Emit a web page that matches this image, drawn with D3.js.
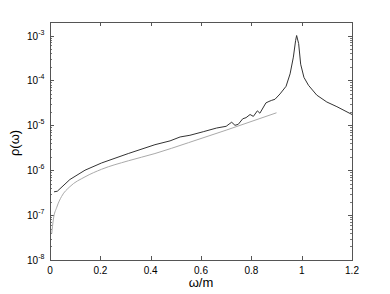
<!DOCTYPE html>
<html>
<head>
<meta charset="utf-8">
<script src="https://cdn.jsdelivr.net/npm/d3@7"></script>
<style>
  body { margin: 0; background: #fff; }
  svg { display: block; font-family: "Liberation Sans", Arial, Helvetica, sans-serif; }
  .tick-label { font-size: 10px; fill: #000; }
  .axis-title { font-size: 13px; fill: #000; }
</style>
</head>
<body>
<div id="chart"></div>
<script>
// spectral density, full result (dark) and approximation (light)
const omegaDark = [0.016, 0.029, 0.079, 0.139, 0.205, 0.311, 0.417, 0.477, 0.517, 0.556, 0.609, 0.662, 0.700,
    0.715, 0.722, 0.735, 0.748, 0.766, 0.779, 0.795, 0.808, 0.824, 0.834, 0.858, 0.870, 0.881, 0.894, 0.914,
    0.938, 0.954, 0.967, 0.976, 0.980, 0.988, 0.996, 1.009, 1.027, 1.06, 1.10, 1.14, 1.20];
const rhoDark = [3.3e-7, 3.4e-7, 6.2e-7, 1.0e-6, 1.45e-6, 2.35e-6, 3.7e-6, 4.5e-6, 5.5e-6, 6.0e-6, 7.2e-6, 8.7e-6, 9.5e-6,
    1.1e-5, 1.17e-5, 1.0e-5, 1.05e-5, 1.4e-5, 1.48e-5, 1.74e-5, 1.58e-5, 2.1e-5, 1.86e-5, 3.16e-5, 3.4e-5, 3.6e-5, 3.8e-5, 5.0e-5,
    7.4e-5, 1.4e-4, 3.3e-4, 7.8e-4, 1.0e-3, 6.6e-4, 2.3e-4, 1.17e-4, 7.8e-5, 4.7e-5, 3.3e-5, 2.6e-5, 1.74e-5];

const omegaLight = [0.007, 0.013, 0.027, 0.046, 0.079, 0.139, 0.205, 0.311, 0.417, 0.55, 0.70, 0.90];
const rhoLight = [3.9e-8, 7.8e-8, 1.5e-7, 2.6e-7, 4.3e-7, 7.1e-7, 1.05e-6, 1.62e-6, 2.35e-6, 4.1e-6, 7.8e-6, 1.9e-5];

const xTicks = [0, 0.2, 0.4, 0.6, 0.8, 1, 1.2];
const yExponents = [-8, -7, -6, -5, -4, -3];

const width = 390, height = 294;
const margin = {top: 22, right: 38, bottom: 34, left: 50};
const innerW = width - margin.left - margin.right;
const innerH = height - margin.top - margin.bottom;

const svg = d3.select('#chart').append('svg')
    .attr('width', width)
    .attr('height', height);

const g = svg.append('g')
    .attr('transform', 'translate(' + margin.left + ',' + margin.top + ')');

const x = d3.scaleLinear().domain([0, 1.2]).range([0, innerW]);
const y = d3.scaleLog().domain([1e-8, 2e-3]).range([innerH, 0]);

const axisColor = '#555';

// minor ticks on the log axis (both sides, inside)
let minor = [];
yExponents.forEach(e => {
    for (let m = 2; m <= 9; m++) {
        let v = m * Math.pow(10, e);
        if (v < y.domain()[1]) minor.push(v);
    }
});

g.selectAll('.minor-l').data(minor).enter().append('line')
    .attr('x1', 0).attr('x2', 2)
    .attr('y1', d => Math.round(y(d)) + 0.5).attr('y2', d => Math.round(y(d)) + 0.5)
    .attr('stroke', axisColor).attr('stroke-width', 0.8);
g.selectAll('.minor-r').data(minor).enter().append('line')
    .attr('x1', innerW).attr('x2', innerW - 2)
    .attr('y1', d => Math.round(y(d)) + 0.5).attr('y2', d => Math.round(y(d)) + 0.5)
    .attr('stroke', axisColor).attr('stroke-width', 0.8);

// major y ticks
const yMajor = yExponents.map(e => Math.pow(10, e));
g.selectAll('.major-l').data(yMajor).enter().append('line')
    .attr('x1', 0).attr('x2', 4)
    .attr('y1', d => Math.round(y(d)) + 0.5).attr('y2', d => Math.round(y(d)) + 0.5)
    .attr('stroke', axisColor);
g.selectAll('.major-r').data(yMajor).enter().append('line')
    .attr('x1', innerW).attr('x2', innerW - 4)
    .attr('y1', d => Math.round(y(d)) + 0.5).attr('y2', d => Math.round(y(d)) + 0.5)
    .attr('stroke', axisColor);

// x ticks, bottom and top
g.selectAll('.xt-b').data(xTicks).enter().append('line')
    .attr('x1', d => Math.round(x(d)) + 0.5).attr('x2', d => Math.round(x(d)) + 0.5)
    .attr('y1', innerH).attr('y2', innerH - 4)
    .attr('stroke', axisColor);
g.selectAll('.xt-t').data(xTicks).enter().append('line')
    .attr('x1', d => Math.round(x(d)) + 0.5).attr('x2', d => Math.round(x(d)) + 0.5)
    .attr('y1', 0).attr('y2', 4)
    .attr('stroke', axisColor);

// box
g.append('rect')
    .attr('x', 0.5).attr('y', 0.5)
    .attr('width', innerW).attr('height', innerH)
    .attr('fill', 'none')
    .attr('stroke', axisColor);

// x tick labels
g.selectAll('.xl').data(xTicks).enter().append('text')
    .attr('class', 'tick-label')
    .attr('x', d => x(d))
    .attr('y', innerH + 14)
    .attr('text-anchor', 'middle')
    .text(d => d3.format('~g')(d));

// y tick labels: 10 with superscript exponent
const yl = g.selectAll('.yl').data(yExponents).enter().append('text')
    .attr('class', 'tick-label')
    .attr('x', -13)
    .attr('y', d => y(Math.pow(10, d)) + 4)
    .attr('text-anchor', 'end');
yl.append('tspan').text('10');
yl.append('tspan')
    .attr('dy', -5)
    .attr('font-size', '7px')
    .text(d => String(d));
// position exponent right after the "10"
yl.attr('text-anchor', 'start').attr('x', -23);

// curves
const line = d3.line()
    .x(d => x(d[0]))
    .y(d => y(d[1]));

g.append('path')
    .datum(d3.zip(omegaLight, rhoLight))
    .attr('fill', 'none')
    .attr('stroke', '#aaa')
    .attr('stroke-width', 1)
    .attr('d', line.curve(d3.curveMonotoneX));

g.append('path')
    .datum(d3.zip(omegaDark, rhoDark))
    .attr('fill', 'none')
    .attr('stroke', '#333')
    .attr('stroke-width', 1)
    .attr('d', line.curve(d3.curveLinear));

// axis titles
svg.append('text')
    .attr('class', 'axis-title')
    .attr('x', margin.left + x(0.6))
    .attr('y', 287)
    .attr('text-anchor', 'middle')
    .text('ω/m');

svg.append('text')
    .attr('class', 'axis-title')
    .attr('transform', 'translate(19,' + (margin.top + innerH / 2 + 2) + ') rotate(-90)')
    .attr('text-anchor', 'middle')
    .text('ρ(ω)');
</script>
</body>
</html>
